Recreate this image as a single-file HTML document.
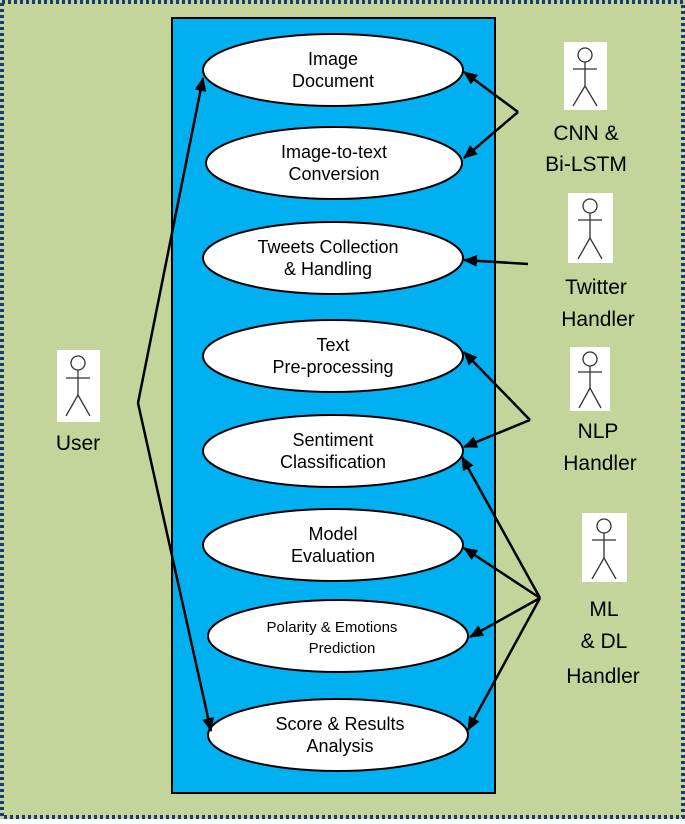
<!DOCTYPE html>
<html><head><style>
body{margin:0;width:685px;height:819px;overflow:hidden;background:#fff}
</style></head><body>
<svg width="685" height="819" viewBox="0 0 685 819" xmlns="http://www.w3.org/2000/svg" font-family="Liberation Sans, sans-serif">
<defs>
<marker id="b" markerWidth="14" markerHeight="14" refX="13" refY="7" orient="auto" markerUnits="userSpaceOnUse" viewBox="0 0 14 14"><path d="M0,1 L14,7 L0,13 z" fill="#000"/></marker></defs>
<rect x="0" y="0" width="685" height="819" fill="#c3d59b"/>
<rect x="2" y="2" width="681" height="815" fill="none" stroke="#1f3a6e" stroke-width="4" stroke-dasharray="3,3"/>
<rect x="172" y="18" width="323" height="775" fill="#00b0f0" stroke="#000" stroke-width="2"/>
<g fill="#fff" stroke="#000" stroke-width="2">
<ellipse cx="333" cy="70" rx="130" ry="36"/>
<ellipse cx="334" cy="163" rx="128" ry="36"/>
<ellipse cx="333" cy="258" rx="130" ry="36"/>
<ellipse cx="333" cy="356" rx="130" ry="36"/>
<ellipse cx="333" cy="451" rx="130" ry="36"/>
<ellipse cx="333" cy="545" rx="130" ry="36"/>
<ellipse cx="338" cy="636" rx="130" ry="36"/>
<ellipse cx="338" cy="735" rx="130" ry="36"/>
</g>
<g font-size="18" text-anchor="middle" fill="#000">
<text x="333" y="65">Image</text><text x="333" y="87">Document</text>
<text x="334" y="158">Image-to-text</text><text x="334" y="180">Conversion</text>
<text x="328" y="253">Tweets Collection</text><text x="328" y="275">&amp; Handling</text>
<text x="333" y="351">Text</text><text x="333" y="373">Pre-processing</text>
<text x="333" y="446">Sentiment</text><text x="333" y="468">Classification</text>
<text x="333" y="540">Model</text><text x="333" y="562">Evaluation</text>
<text x="332" y="632" font-size="15">Polarity &amp; Emotions</text><text x="342" y="653" font-size="15">Prediction</text>
<text x="340" y="730">Score &amp; Results</text><text x="340" y="752">Analysis</text>
</g>
<g fill="none" stroke="#000" stroke-width="2.5">
<line x1="138" y1="403" x2="203" y2="78" marker-end="url(#b)"/>
<line x1="138" y1="403" x2="211" y2="731" marker-end="url(#b)"/>
<line x1="518" y1="112" x2="464" y2="72" marker-end="url(#b)"/>
<line x1="518" y1="112" x2="464" y2="158" marker-end="url(#b)"/>
<line x1="528" y1="264" x2="464" y2="260" marker-end="url(#b)"/>
<line x1="530" y1="420" x2="464" y2="352" marker-end="url(#b)"/>
<line x1="530" y1="420" x2="464" y2="447" marker-end="url(#b)"/>
<line x1="540" y1="598" x2="462" y2="457" marker-end="url(#b)"/>
<line x1="540" y1="598" x2="464" y2="548" marker-end="url(#b)"/>
<line x1="540" y1="598" x2="470" y2="637" marker-end="url(#b)"/>
<line x1="540" y1="598" x2="468" y2="730" marker-end="url(#b)"/>
</g>
<g stroke="#333" stroke-width="1.3" fill="none">
<g transform="translate(57,350)"><rect x="0" y="0" width="43" height="72" fill="#fff" stroke="none"/><circle cx="21" cy="13" r="7"/><line x1="21" y1="20" x2="21" y2="45"/><line x1="9" y1="28" x2="33" y2="28"/><line x1="21" y1="45" x2="9" y2="66"/><line x1="21" y1="45" x2="33" y2="66"/></g>
<g transform="translate(564,42)"><rect x="0" y="0" width="43" height="68" fill="#fff" stroke="none"/><circle cx="21" cy="13" r="7"/><line x1="21" y1="20" x2="21" y2="44"/><line x1="9" y1="27" x2="33" y2="27"/><line x1="21" y1="44" x2="9" y2="64"/><line x1="21" y1="44" x2="33" y2="64"/></g>
<g transform="translate(568,193)"><rect x="0" y="0" width="45" height="70" fill="#fff" stroke="none"/><circle cx="22" cy="13" r="7"/><line x1="22" y1="20" x2="22" y2="45"/><line x1="10" y1="27" x2="34" y2="27"/><line x1="22" y1="45" x2="10" y2="66"/><line x1="22" y1="45" x2="34" y2="66"/></g>
<g transform="translate(570,347)"><rect x="0" y="0" width="40" height="64" fill="#fff" stroke="none"/><circle cx="20" cy="12" r="7"/><line x1="20" y1="19" x2="20" y2="41"/><line x1="8" y1="25" x2="32" y2="25"/><line x1="20" y1="41" x2="9" y2="61"/><line x1="20" y1="41" x2="31" y2="61"/></g>
<g transform="translate(582,513)"><rect x="0" y="0" width="45" height="69" fill="#fff" stroke="none"/><circle cx="22" cy="13" r="7"/><line x1="22" y1="20" x2="22" y2="45"/><line x1="10" y1="27" x2="34" y2="27"/><line x1="22" y1="45" x2="10" y2="66"/><line x1="22" y1="45" x2="34" y2="66"/></g>
</g>
<g font-size="21" text-anchor="middle" fill="#000">
<text x="78" y="450">User</text>
<text x="586" y="140">CNN &amp;</text><text x="586" y="171">Bi-LSTM</text>
<text x="596" y="294">Twitter</text><text x="598" y="326">Handler</text>
<text x="598" y="438">NLP</text><text x="600" y="470">Handler</text>
<text x="604" y="616">ML</text><text x="604" y="648">&amp; DL</text><text x="603" y="683">Handler</text>
</g>
</svg>
</body></html>
